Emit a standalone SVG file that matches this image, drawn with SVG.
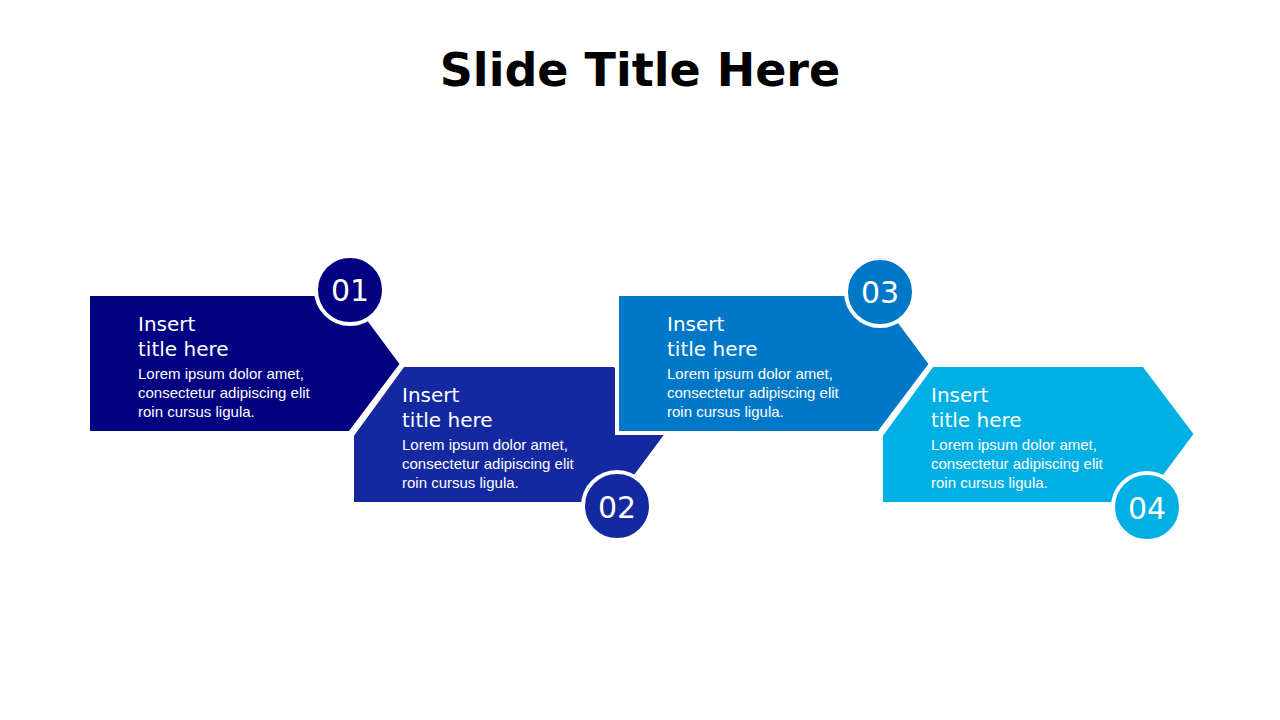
<svg xmlns="http://www.w3.org/2000/svg" width="1280" height="720" viewBox="0 0 1280 720">
<style>
.sh{stroke:#fff;stroke-width:4;stroke-linejoin:miter}
.c{stroke:#fff;stroke-width:4}
.n{font-family:"DejaVu Sans",sans-serif;font-size:30px;fill:#fff;text-anchor:middle}
.t{font-family:"DejaVu Sans",sans-serif;font-size:20px;fill:#fff}
.b{font-family:"Liberation Sans",sans-serif;font-size:15px;fill:#fff}
</style>
<rect width="1280" height="720" fill="#fff"/>
<text x="640" y="86" text-anchor="middle" font-family="DejaVu Sans,sans-serif" font-weight="bold" font-size="46" fill="#000">Slide Title Here</text>
<g id="node1">
<polygon class="sh" fill="#000080" points="88,294 350,294 402,364 350,433 88,433"/>
<text class="t" x="138" y="331">Insert</text><text class="t" x="138" y="356">title here</text>
<text class="b" x="138" y="379">Lorem ipsum dolor amet,</text><text class="b" x="138" y="398">consectetur adipiscing elit</text><text class="b" x="138" y="417">roin cursus ligula.</text>
<circle class="c" cx="350" cy="290" r="34" fill="#000080"/><text class="n" x="350" y="301">01</text>
</g>
<g id="node2">
<polygon class="sh" fill="#1428A0" points="403,365 615,365 667,434 615,504 352,504 352,435"/>
<text class="t" x="402" y="402">Insert</text><text class="t" x="402" y="427">title here</text>
<text class="b" x="402" y="450">Lorem ipsum dolor amet,</text><text class="b" x="402" y="469">consectetur adipiscing elit</text><text class="b" x="402" y="488">roin cursus ligula.</text>
<circle class="c" cx="617" cy="506" r="34" fill="#1428A0"/><text class="n" x="617" y="518">02</text>
</g>
<g id="node3">
<polygon class="sh" fill="#0078C8" points="617,294 879,294 931,364 879,433 617,433"/>
<text class="t" x="667" y="331">Insert</text><text class="t" x="667" y="356">title here</text>
<text class="b" x="667" y="379">Lorem ipsum dolor amet,</text><text class="b" x="667" y="398">consectetur adipiscing elit</text><text class="b" x="667" y="417">roin cursus ligula.</text>
<circle class="c" cx="880" cy="292" r="34" fill="#0078C8"/><text class="n" x="880" y="303">03</text>
</g>
<g id="node4">
<polygon class="sh" fill="#00B0E4" points="932,365 1144,365 1196,434 1144,504 881,504 881,435"/>
<text class="t" x="931" y="402">Insert</text><text class="t" x="931" y="427">title here</text>
<text class="b" x="931" y="450">Lorem ipsum dolor amet,</text><text class="b" x="931" y="469">consectetur adipiscing elit</text><text class="b" x="931" y="488">roin cursus ligula.</text>
<circle class="c" cx="1147" cy="507" r="34" fill="#00B0E4"/><text class="n" x="1147" y="519">04</text>
</g>
<g id="connectors"/>
</svg>
